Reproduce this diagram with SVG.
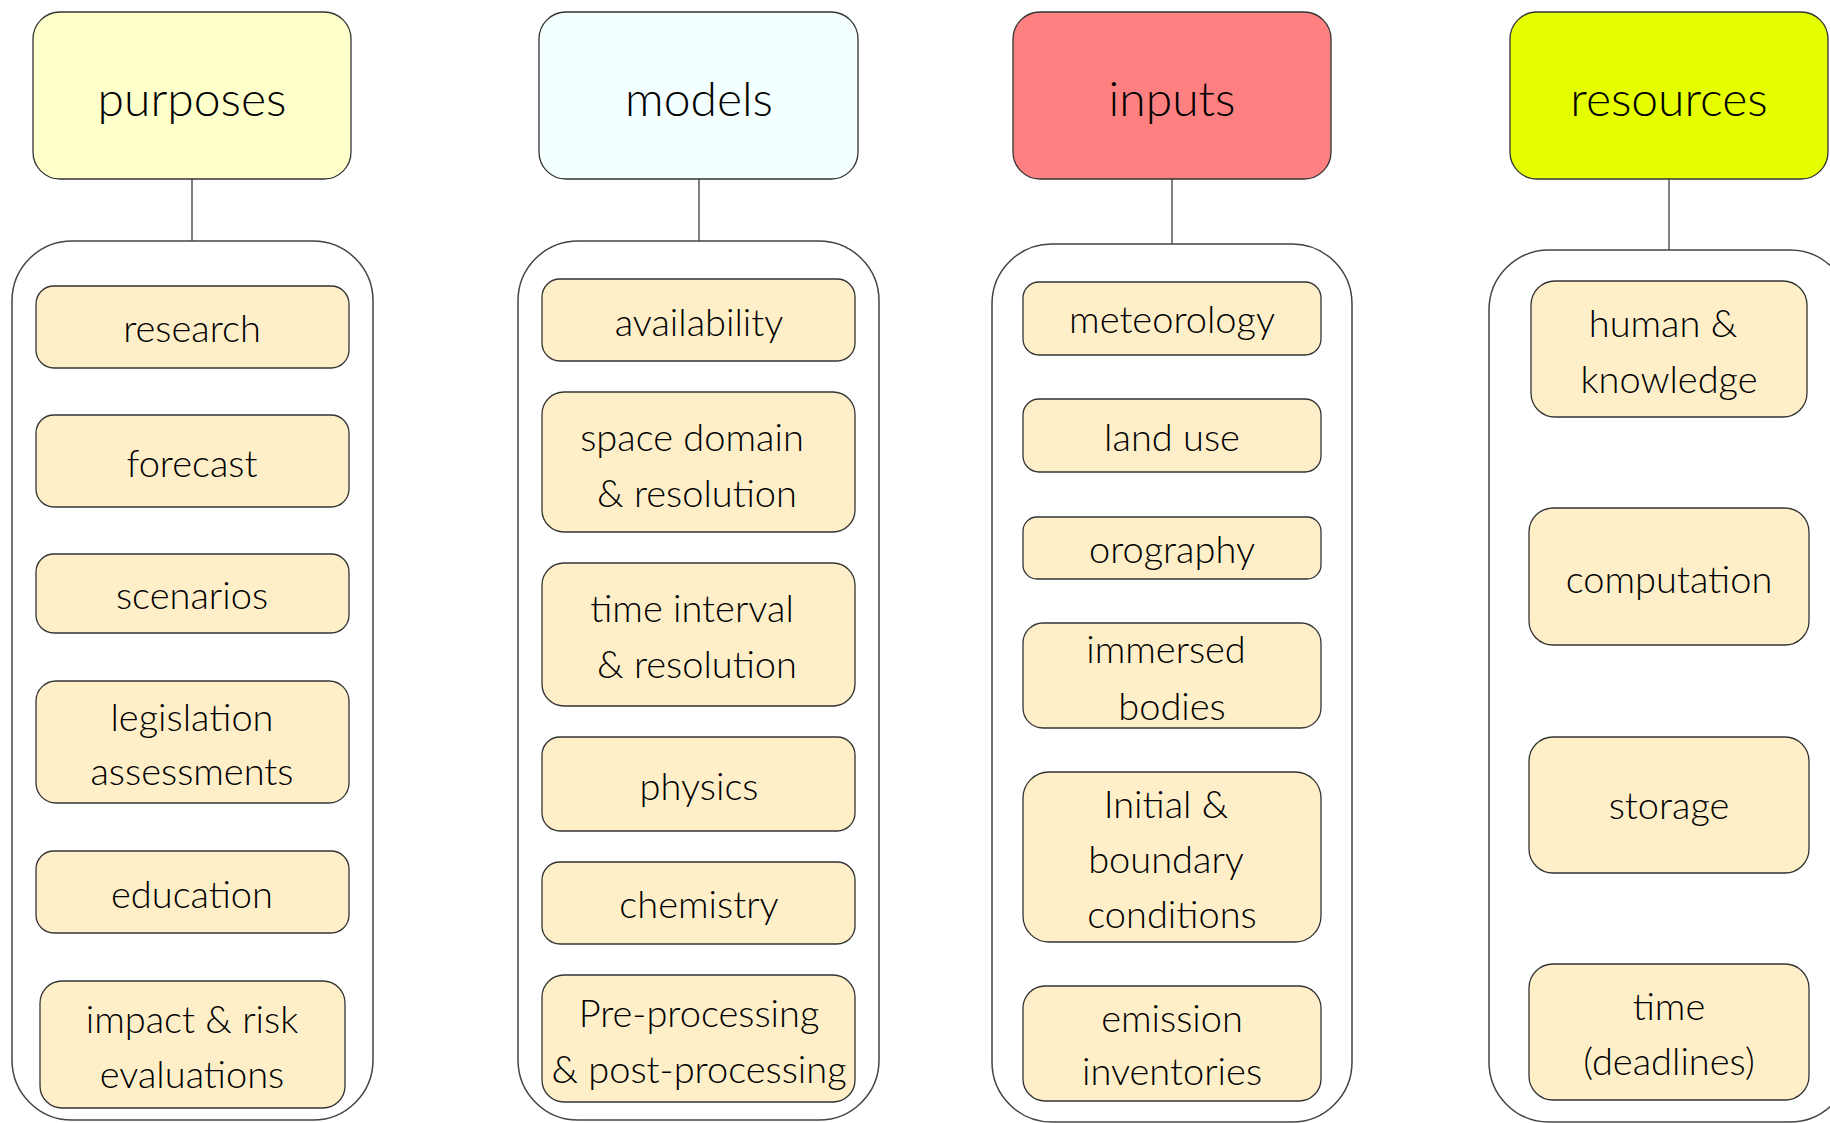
<svg xmlns="http://www.w3.org/2000/svg" width="1830" height="1123" viewBox="0 0 1830 1123">
<style>
text{font-family:Lato,Roboto,"Liberation Sans",sans-serif;font-weight:300;fill:#000;text-anchor:middle}
.h{font-size:48px}
.t{font-size:38px}
.hd{stroke:#333;stroke-width:1.3}
.ct{fill:#fff;stroke:#444;stroke-width:1.5}
.it{fill:#FFEFC9;stroke:#333;stroke-width:1.3}
.cn{stroke:#555;stroke-width:1.5;fill:none}
</style>
<rect width="1830" height="1123" fill="#fff"/>
<g id="connectors">
<line class="cn" x1="192" y1="179" x2="192" y2="241"/>
<line class="cn" x1="699" y1="179" x2="699" y2="241"/>
<line class="cn" x1="1172" y1="179" x2="1172" y2="244"/>
<line class="cn" x1="1669" y1="179" x2="1669" y2="250"/>
</g>
<g id="purposes"><rect class="hd" x="33" y="12" width="318" height="167" rx="27" fill="#FFFFCC"/><text class="h" x="192" y="116">purposes</text></g>
<g id="models"><rect class="hd" x="539" y="12" width="319" height="167" rx="27" fill="#F4FFFF"/><text class="h" x="699" y="116">models</text></g>
<g id="inputs"><rect class="hd" x="1013" y="12" width="318" height="167" rx="27" fill="#FF8080"/><text class="h" x="1172" y="116">inputs</text></g>
<g id="resources"><rect class="hd" x="1510" y="12" width="318" height="167" rx="27" fill="#E5FF00"/><text class="h" x="1669" y="116">resources</text></g>

<g id="purposes-group"><rect class="ct" x="12" y="241" width="361" height="879" rx="60"/></g>
<g id="models-group"><rect class="ct" x="518" y="241" width="361" height="879" rx="60"/></g>
<g id="inputs-group"><rect class="ct" x="992" y="244" width="360" height="878" rx="60"/></g>
<g id="resources-group"><rect class="ct" x="1489" y="250" width="361" height="872" rx="60"/></g>

<g id="research"><rect class="it" x="36" y="286" width="313" height="82" rx="18"/><text class="t" x="192" y="342">research</text></g>
<g id="forecast"><rect class="it" x="36" y="415" width="313" height="92" rx="18"/><text class="t" x="192" y="477">forecast</text></g>
<g id="scenarios"><rect class="it" x="36" y="554" width="313" height="79" rx="18"/><text class="t" x="192" y="609">scenarios</text></g>
<g id="legislation"><rect class="it" x="36" y="681" width="313" height="122" rx="20"/><text class="t" x="192" y="731">legislation</text><text class="t" x="192" y="785">assessments</text></g>
<g id="education"><rect class="it" x="36" y="851" width="313" height="82" rx="18"/><text class="t" x="192" y="908">education</text></g>
<g id="impact"><rect class="it" x="40" y="981" width="305" height="127" rx="22"/><text class="t" x="192" y="1033">impact &amp; risk</text><text class="t" x="192" y="1088">evaluations</text></g>

<g id="availability"><rect class="it" x="542" y="279" width="313" height="82" rx="18"/><text class="t" x="699" y="336">availability</text></g>
<g id="space"><rect class="it" x="542" y="392" width="313" height="140" rx="22"/><text class="t" x="692" y="451">space domain</text><text class="t" x="697" y="507">&amp; resolution</text></g>
<g id="time-interval"><rect class="it" x="542" y="563" width="313" height="143" rx="22"/><text class="t" x="692" y="622">time interval</text><text class="t" x="697" y="678">&amp; resolution</text></g>
<g id="physics"><rect class="it" x="542" y="737" width="313" height="94" rx="18"/><text class="t" x="699" y="800">physics</text></g>
<g id="chemistry"><rect class="it" x="542" y="862" width="313" height="82" rx="18"/><text class="t" x="699" y="918">chemistry</text></g>
<g id="processing"><rect class="it" x="542" y="975" width="313" height="127" rx="22"/><text class="t" x="699" y="1027">Pre-processing</text><text class="t" x="699" y="1083">&amp; post-processing</text></g>

<g id="meteorology"><rect class="it" x="1023" y="282" width="298" height="73" rx="16"/><text class="t" x="1172" y="333">meteorology</text></g>
<g id="landuse"><rect class="it" x="1023" y="399" width="298" height="73" rx="16"/><text class="t" x="1172" y="451">land use</text></g>
<g id="orography"><rect class="it" x="1023" y="517" width="298" height="62" rx="14"/><text class="t" x="1172" y="563">orography</text></g>
<g id="immersed"><rect class="it" x="1023" y="623" width="298" height="105" rx="20"/><text class="t" x="1166" y="663">immersed</text><text class="t" x="1172" y="720">bodies</text></g>
<g id="initial"><rect class="it" x="1023" y="772" width="298" height="170" rx="26"/><text class="t" x="1166" y="818">Initial &amp;</text><text class="t" x="1166" y="873">boundary</text><text class="t" x="1172" y="928">conditions</text></g>
<g id="emission"><rect class="it" x="1023" y="986" width="298" height="115" rx="22"/><text class="t" x="1172" y="1032">emission</text><text class="t" x="1172" y="1085">inventories</text></g>

<g id="human"><rect class="it" x="1531" y="281" width="276" height="136" rx="24"/><text class="t" x="1663" y="337">human &amp;</text><text class="t" x="1669" y="393">knowledge</text></g>
<g id="computation"><rect class="it" x="1529" y="508" width="280" height="137" rx="24"/><text class="t" x="1669" y="593">computation</text></g>
<g id="storage"><rect class="it" x="1529" y="737" width="280" height="136" rx="24"/><text class="t" x="1669" y="819">storage</text></g>
<g id="time"><rect class="it" x="1529" y="964" width="280" height="136" rx="24"/><text class="t" x="1669" y="1020">time</text><text class="t" x="1669" y="1075">(deadlines)</text></g>
</svg>
